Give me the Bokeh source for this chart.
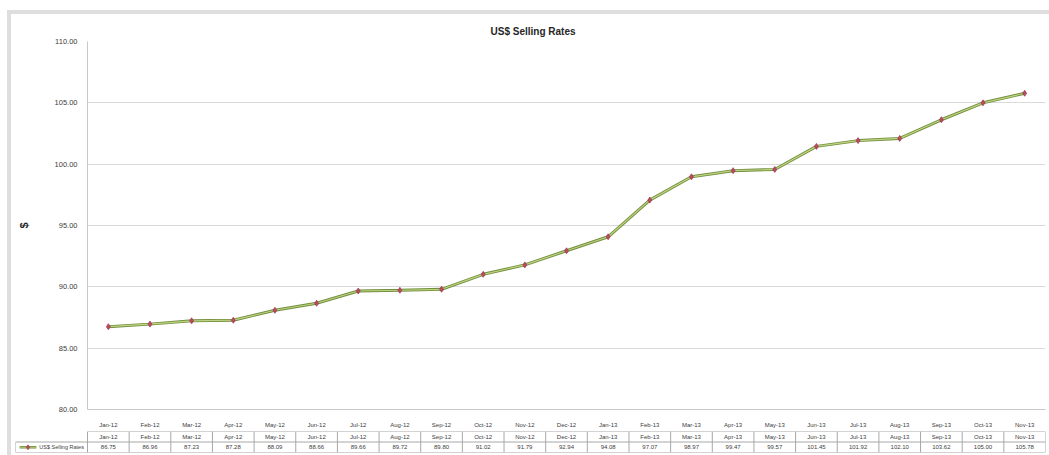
from bokeh.plotting import figure
from bokeh.models import Range1d, FixedTicker, PrintfTickFormatter
from bokeh.layouts import column
from bokeh.embed import file_html
from bokeh.resources import INLINE
from bokeh.core.properties import value

# ---------------- data ----------------
months = ["Jan-12", "Feb-12", "Mar-12", "Apr-12", "May-12", "Jun-12", "Jul-12",
          "Aug-12", "Sep-12", "Oct-12", "Nov-12", "Dec-12", "Jan-13", "Feb-13",
          "Mar-13", "Apr-13", "May-13", "Jun-13", "Jul-13", "Aug-13", "Sep-13",
          "Oct-13", "Nov-13"]
rates = [86.75, 86.96, 87.23, 87.28, 88.09, 88.66, 89.66, 89.72, 89.80, 91.02,
         91.79, 92.94, 94.08, 97.07, 98.97, 99.47, 99.57, 101.45, 101.92, 102.10,
         103.62, 105.00, 105.78]
y_ticks = [80, 85, 90, 95, 100, 105, 110]
title_text = "US$ Selling Rates"
series_name = "US$ Selling Rates"
y_label = "$"

FONT = "Liberation Sans"
TXT = "#404040"
LINE_DARK = "#738e3c"
LINE_LIGHT = "#bcd483"
MARK_FILL = "#bd4a63"
MARK_LINE = "#9a3550"

idx = list(range(len(months)))
n = len(months)

# ---------------- main chart ----------------
W = 1038
frame_left = 76
frame_right = 4
frame_w = W - frame_left - frame_right
ppu = frame_w / n

p = figure(width=W, height=416, x_range=Range1d(-0.5, n - 0.5),
           y_range=Range1d(y_ticks[0], y_ticks[-1]),
           output_backend="svg", toolbar_location=None,
           min_border_left=frame_left, min_border_right=frame_right,
           min_border_top=27, min_border_bottom=17)
p.outline_line_color = None
p.background_fill_color = "white"
p.border_fill_color = "white"

p.title.text = title_text
p.title.align = "left"
p.title.offset = 403
p.title.text_font = FONT
p.title.text_font_size = "10px"
p.title.text_font_style = "bold"
p.title.text_color = "#262626"
p.title.standoff = 10

p.yaxis.ticker = FixedTicker(ticks=y_ticks)
p.yaxis.formatter = PrintfTickFormatter(format="%.2f")
p.yaxis.axis_label = y_label
p.yaxis.axis_label_text_font = FONT
p.yaxis.axis_label_text_font_size = "11px"
p.yaxis.axis_label_text_font_style = "bold"
p.yaxis.axis_label_text_color = "#262626"
p.yaxis.axis_label_standoff = 22
p.yaxis.major_label_standoff = 4

p.xaxis.ticker = FixedTicker(ticks=idx)
p.xaxis.major_label_overrides = {i: m for i, m in zip(idx, months)}
p.xaxis.major_label_standoff = 6

for ax in (p.xaxis, p.yaxis):
    ax.major_tick_line_color = None
    ax.minor_tick_line_color = None
    ax.axis_line_color = "#c8c8c8"
    ax.major_label_text_font = FONT
    ax.major_label_text_color = TXT
p.yaxis.major_label_text_font_size = "7.5px"
p.xaxis.major_label_text_font_size = "6px"

p.xgrid.grid_line_color = None
p.ygrid.grid_line_color = "#dadada"

p.line(idx, rates, line_color=LINE_DARK, line_width=3.0)
p.line(idx, rates, line_color=LINE_LIGHT, line_width=1.2)
p.scatter(idx, rates, marker="diamond", size=6, fill_color=MARK_FILL,
          line_color=MARK_LINE, line_width=0.7)

# ---------------- data table below ----------------
t_left = 4
legend_units = (frame_left - t_left) / ppu
t = figure(width=W, height=25, x_range=Range1d(-0.5 - legend_units, n - 0.5),
           y_range=Range1d(0, 2), output_backend="svg", toolbar_location=None,
           x_axis_location=None, y_axis_location=None,
           min_border_left=t_left, min_border_right=frame_right,
           min_border_top=1, min_border_bottom=3)
t.outline_line_color = None
t.xgrid.grid_line_color = None
t.ygrid.grid_line_color = None

BORDER = "#a8a8a8"
x0 = -0.5 - legend_units
# horizontal rules
t.segment(x0=[-0.5, x0, x0], y0=[2, 1, 0], x1=[n - 0.5] * 3, y1=[2, 1, 0],
          line_color=BORDER, line_width=1)
# vertical rules
vx = [i - 0.5 for i in range(n + 1)]
t.segment(x0=vx, y0=[0] * len(vx), x1=vx, y1=[2] * len(vx),
          line_color=BORDER, line_width=1)
t.segment(x0=[x0], y0=[0], x1=[x0], y1=[1], line_color=BORDER, line_width=1)

t.text(x=idx, y=[1.5] * n, text=months, text_align="center",
       text_baseline="middle", text_font=value(FONT), text_font_size="6px",
       text_color=TXT)
t.text(x=idx, y=[0.5] * n, text=["%.2f" % r for r in rates], text_align="center",
       text_baseline="middle", text_font=value(FONT), text_font_size="6px",
       text_color=TXT)

# legend key in the table
kx = x0 + 0.1
t.line([kx, kx + 0.4], [0.5, 0.5], line_color=LINE_DARK, line_width=2.4)
t.line([kx, kx + 0.4], [0.5, 0.5], line_color=LINE_LIGHT, line_width=0.9)
t.scatter([kx + 0.2], [0.5], marker="diamond", size=5, fill_color=MARK_FILL,
          line_color=MARK_LINE, line_width=0.6)
t.text(x=[kx + 0.47], y=[0.5], text=[series_name], text_align="left",
       text_baseline="middle", text_font=value(FONT), text_font_size="5.5px",
       text_color=TXT)

top_box = column(p, spacing=0,
                 styles={"margin-left": "7px", "margin-top": "10px",
                         "border-left": "4px solid #dedede",
                         "border-top": "4px solid #dedede"})
bottom_box = column(t, spacing=0,
                    styles={"margin-left": "7px",
                            "border-left": "4px solid #dedede"})

open("out.html", "w").write(file_html([top_box, bottom_box], INLINE))
